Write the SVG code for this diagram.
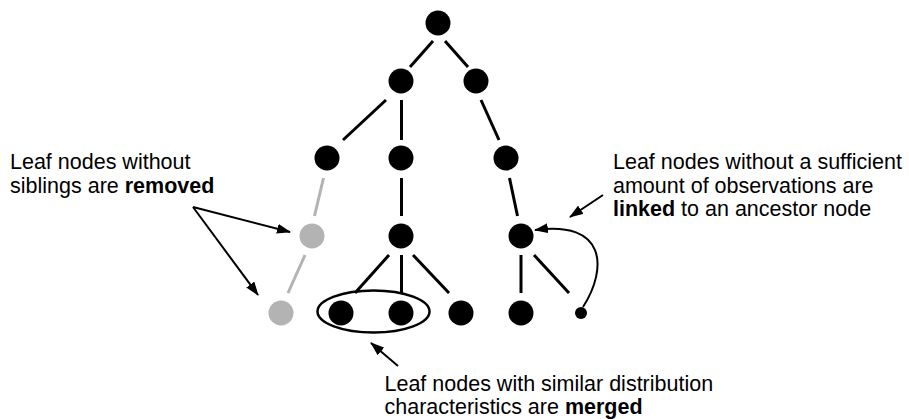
<svg xmlns="http://www.w3.org/2000/svg" width="909" height="419" viewBox="0 0 909 419">
  <style>
    .n { fill: #000; }
    .g { fill: #b3b3b3; }
    .e { stroke: #000; stroke-width: 3; fill: none; }
    .eg { stroke: #b3b3b3; stroke-width: 3; fill: none; }
    .a { stroke: #000; stroke-width: 2; fill: none; marker-end: url(#ah); }
    text { font-family: "Liberation Sans", Arial, sans-serif; font-size: 21.5px; fill: #000; }
    .b { font-weight: bold; }
  </style>
  <defs>
    <marker id="ah" markerUnits="userSpaceOnUse" markerWidth="14" markerHeight="10" viewBox="0 0 14 10" refX="13" refY="5" orient="auto">
      <path d="M0,0 L14,5 L0,10 z" fill="#000"/>
    </marker>
  </defs>
  <rect width="909" height="419" fill="#fff"/>
  <g id="connectors">
    <line class="e" x1="433" y1="41" x2="410" y2="67"/>
    <line class="e" x1="445" y1="41" x2="468" y2="67"/>
    <line class="e" x1="386" y1="100" x2="343" y2="140"/>
    <line class="e" x1="401.5" y1="100" x2="401.5" y2="140"/>
    <line class="e" x1="481" y1="100" x2="499" y2="140"/>
    <line class="eg" x1="323.5" y1="178" x2="314.5" y2="216"/>
    <line class="e" x1="401.5" y1="178" x2="401.5" y2="216"/>
    <line class="e" x1="509.5" y1="178" x2="517.5" y2="216"/>
    <line class="eg" x1="305" y1="255" x2="288" y2="293"/>
    <line class="e" x1="389" y1="255" x2="355" y2="293"/>
    <line class="e" x1="401.5" y1="255" x2="401.5" y2="293"/>
    <line class="e" x1="413" y1="255" x2="449" y2="293"/>
    <line class="e" x1="521" y1="255" x2="521" y2="293"/>
    <line class="e" x1="534" y1="255" x2="569" y2="293"/>
  </g>
  <g id="nodes">
    <g id="n-root"><circle class="n" cx="438" cy="23" r="12.5"/></g>
    <g id="n-l2a"><circle class="n" cx="401" cy="81" r="12.5"/></g>
    <g id="n-l2b"><circle class="n" cx="476" cy="81" r="12.5"/></g>
    <g id="n-l3a"><circle class="n" cx="327" cy="158" r="12.5"/></g>
    <g id="n-l3b"><circle class="n" cx="401" cy="158" r="12.5"/></g>
    <g id="n-l3c"><circle class="n" cx="506" cy="158" r="12.5"/></g>
    <g id="n-l4a"><circle class="g" cx="312" cy="236" r="12.5"/></g>
    <g id="n-l4b"><circle class="n" cx="401" cy="236" r="12.5"/></g>
    <g id="n-l4c"><circle class="n" cx="521" cy="236" r="12.5"/></g>
    <g id="n-l5a"><circle class="g" cx="281" cy="313" r="12.5"/></g>
    <g id="n-l5b"><circle class="n" cx="341" cy="313" r="12.5"/></g>
    <g id="n-l5c"><circle class="n" cx="401" cy="313" r="12.5"/></g>
    <g id="n-l5d"><circle class="n" cx="461" cy="313" r="12.5"/></g>
    <g id="n-l5e"><circle class="n" cx="521" cy="313" r="12.5"/></g>
    <g id="n-l5f"><circle class="n" cx="581" cy="313" r="6"/></g>
    <g id="merge-ellipse"><ellipse cx="373.5" cy="311.5" rx="56" ry="21" fill="none" stroke="#000" stroke-width="2.5"/></g>
  </g>
  <g id="annotation-arrows">
    <line class="a" x1="193" y1="207" x2="290" y2="232"/>
    <line class="a" x1="193" y1="207" x2="258" y2="295"/>
    <line class="a" x1="603" y1="195" x2="570" y2="217"/>
    <line class="a" x1="398" y1="366" x2="371" y2="343"/>
    <path class="a" d="M583,307 C608,268 606,220 535,230"/>
  </g>
  <g id="labels">
    <text x="10" y="169">Leaf nodes without</text>
    <text x="10" y="192.5">siblings are <tspan class="b">removed</tspan></text>
    <text x="613" y="168.5">Leaf nodes without a sufficient</text>
    <text x="613" y="192.5">amount of observations are</text>
    <text x="613" y="216"><tspan class="b">linked</tspan> to an ancestor node</text>
    <text x="384.5" y="390.5">Leaf nodes with similar distribution</text>
    <text x="384.5" y="414">characteristics are <tspan class="b">merged</tspan></text>
  </g>
</svg>
